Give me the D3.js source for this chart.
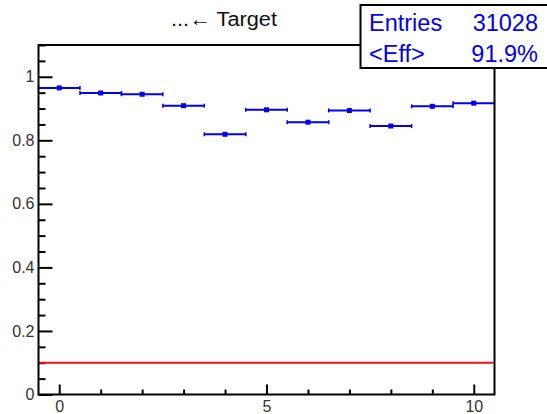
<!DOCTYPE html>
<html>
<head>
<meta charset="utf-8">
<script src="https://cdn.jsdelivr.net/npm/d3@7"></script>
<style>
  html, body { margin: 0; padding: 0; background: #fff; }
  svg { display: block; font-family: "Liberation Sans", Arial, sans-serif; }
</style>
</head>
<body>
<svg id="chart" width="547" height="414"></svg>
<script>
// ---- data ----
const binCenters = [0, 1, 2, 3, 4, 5, 6, 7, 8, 9, 10];
const efficiency = [0.965, 0.949, 0.945, 0.909, 0.819, 0.896, 0.857, 0.894, 0.845, 0.907, 0.917];
const effError   = [0.003, 0.003, 0.003, 0.003, 0.004, 0.003, 0.003, 0.003, 0.003, 0.003, 0.003];
const binWidth = 1;
const threshold = 0.1;
const yTickValues = [0, 0.2, 0.4, 0.6, 0.8, 1];
const yTickLabels = ["0", "0.2", "0.4", "0.6", "0.8", "1"];
const xTickValues = [0, 5, 10];
const xTickLabels = ["0", "5", "10"];
const titleText = "...\u2190 Target";
const statNames = ["Entries", "<Eff>"];
const statValues = ["31028", "91.9%"];

// ---- layout ----
const svg = d3.select("#chart");
const L = 38.5, R = 494.5, T = 45, B = 394.5;
const x = d3.scaleLinear().domain([-0.5, 10.5]).range([L, R]);
const y = d3.scaleLinear().domain([0, 1.1]).range([B, T]);

const blue = "#0000ee";
const textFont = "Liberation Sans, Arial, sans-serif";

// minor ticks
const yMinor = d3.range(0, 1.1001, 0.05).filter(v => !yTickValues.some(t => Math.abs(t - v) < 1e-6));
const xMinor = d3.range(0, 10.5, 1).filter(v => !xTickValues.includes(v));

// Y axis ticks
const yAxis = d3.axisLeft(y).tickValues(yTickValues).tickFormat((d, i) => yTickLabels[i]).tickSizeInner(-14).tickSizeOuter(0).tickPadding(4);
const gy = svg.append("g").attr("transform", `translate(${L},0)`).call(yAxis);
gy.select(".domain").remove();
gy.selectAll(".tick line").attr("stroke", "#000").attr("stroke-width", 2);
gy.selectAll(".tick text").attr("font-size", 16).attr("fill", "#333").attr("font-family", textFont);
const gyMinor = d3.axisLeft(y).tickValues(yMinor).tickFormat("").tickSizeInner(-7).tickSizeOuter(0);
const gym = svg.append("g").attr("transform", `translate(${L},0)`).call(gyMinor);
gym.select(".domain").remove();
gym.selectAll(".tick line").attr("stroke", "#000").attr("stroke-width", 2);

// X axis ticks
const xAxis = d3.axisBottom(x).tickValues(xTickValues).tickFormat((d, i) => xTickLabels[i]).tickSizeInner(-10).tickSizeOuter(0).tickPadding(0);
const gx = svg.append("g").attr("transform", `translate(0,${B})`).call(xAxis);
gx.select(".domain").remove();
gx.selectAll(".tick line").attr("stroke", "#000").attr("stroke-width", 2);
gx.selectAll(".tick text").attr("font-size", 16).attr("fill", "#333").attr("font-family", textFont)
  .attr("y", 17).attr("dy", null);
const gxMinor = d3.axisBottom(x).tickValues(xMinor).tickFormat("").tickSizeInner(-5).tickSizeOuter(0);
const gxm = svg.append("g").attr("transform", `translate(0,${B})`).call(gxMinor);
gxm.select(".domain").remove();
gxm.selectAll(".tick line").attr("stroke", "#000").attr("stroke-width", 2);

// threshold line
svg.append("line")
  .attr("x1", x(-0.5) + 1).attr("x2", x(10.5) - 1)
  .attr("y1", y(threshold)).attr("y2", y(threshold))
  .attr("stroke", "#ee1111").attr("stroke-width", 2);

// data points
const pts = binCenters.map((c, i) => ({ c, v: efficiency[i], e: effError[i] }));
const g = svg.append("g");
g.selectAll("line.h").data(pts).join("line").attr("class", "h")
  .attr("x1", d => x(d.c - binWidth / 2)).attr("x2", d => x(d.c + binWidth / 2))
  .attr("y1", d => y(d.v)).attr("y2", d => y(d.v))
  .attr("stroke", blue).attr("stroke-width", 2);
g.selectAll("line.capL").data(pts).join("line").attr("class", "capL")
  .attr("x1", d => x(d.c - binWidth / 2)).attr("x2", d => x(d.c - binWidth / 2))
  .attr("y1", d => y(d.v) - 2).attr("y2", d => y(d.v) + 2)
  .attr("stroke", blue).attr("stroke-width", 1.5);
g.selectAll("line.capR").data(pts).join("line").attr("class", "capR")
  .attr("x1", d => x(d.c + binWidth / 2)).attr("x2", d => x(d.c + binWidth / 2))
  .attr("y1", d => y(d.v) - 2).attr("y2", d => y(d.v) + 2)
  .attr("stroke", blue).attr("stroke-width", 1.5);
g.selectAll("line.v").data(pts).join("line").attr("class", "v")
  .attr("x1", d => x(d.c)).attr("x2", d => x(d.c))
  .attr("y1", d => y(d.v + d.e)).attr("y2", d => y(d.v - d.e))
  .attr("stroke", blue).attr("stroke-width", 2);
g.selectAll("rect.m").data(pts).join("rect").attr("class", "m")
  .attr("x", d => x(d.c) - 2.5).attr("y", d => y(d.v) - 2.5)
  .attr("width", 5).attr("height", 5).attr("fill", blue);

// frame
svg.append("rect").attr("x", L).attr("y", T).attr("width", R - L).attr("height", B - T)
  .attr("fill", "none").attr("stroke", "#000").attr("stroke-width", 2);

// title
svg.append("text").attr("x", 171).attr("y", 26).attr("text-anchor", "start")
  .attr("font-size", 20).attr("fill", "#111").attr("textLength", 106).attr("lengthAdjust", "spacingAndGlyphs")
  .text(titleText);

// stats box
svg.append("rect").attr("x", 360.5).attr("y", 5).attr("width", 200).attr("height", 63)
  .attr("fill", "#fff").attr("stroke", "#000").attr("stroke-width", 2);
statNames.forEach((n, i) => {
  svg.append("text").attr("x", 369).attr("y", 31 + i * 31).attr("font-size", 23.5).attr("fill", blue).text(n);
  svg.append("text").attr("x", 538).attr("y", 31 + i * 31).attr("text-anchor", "end").attr("font-size", 23.5).attr("fill", blue).text(statValues[i]);
});
</script>
</body>
</html>
